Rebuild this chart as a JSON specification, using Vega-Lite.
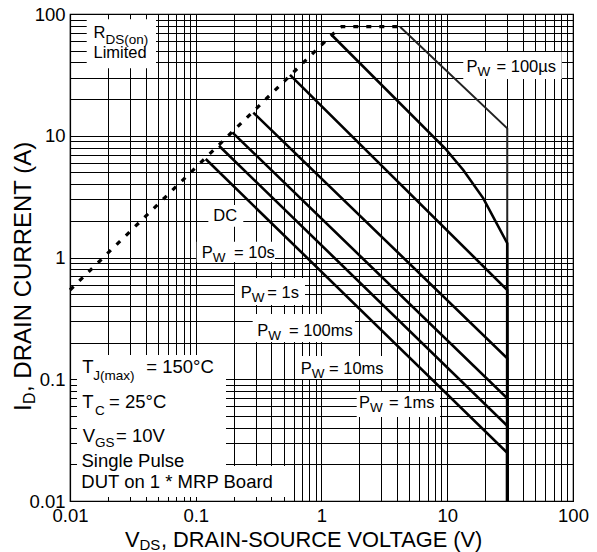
{
  "$schema": "https://vega.github.io/schema/vega-lite/v6.json",
  "width": 503,
  "height": 487,
  "autosize": "none",
  "padding": {"left": 70, "top": 14, "right": 24, "bottom": 51},
  "background": "#ffffff",
  "config": {
    "view": {"stroke": "#000000", "strokeWidth": 1.2},
    "font": "Liberation Sans"
  },
  "datasets": {
    "curves": [
      {"s": "RDS", "o": 1, "V": 0.01, "I": 0.541},
      {"s": "RDS", "o": 2, "V": 1.205, "I": 67.2},
      {"s": "RDS", "o": 3, "V": 1.447, "I": 78.7},
      {"s": "RDS", "o": 4, "V": 4.21, "I": 78.7},
      {"s": "100us", "o": 1, "V": 4.21, "I": 78.7},
      {"s": "100us", "o": 2, "V": 30, "I": 11.5},
      {"s": "100us", "o": 3, "V": 30, "I": 0.01},
      {"s": "1ms", "o": 1, "V": 1.205, "I": 67.2},
      {"s": "1ms", "o": 2, "V": 9.6, "I": 7.89},
      {"s": "1ms", "o": 3, "V": 13.4, "I": 5.23},
      {"s": "1ms", "o": 4, "V": 19.35, "I": 3.06},
      {"s": "1ms", "o": 5, "V": 30, "I": 1.31},
      {"s": "1ms", "o": 6, "V": 30, "I": 0.01},
      {"s": "10ms", "o": 1, "V": 0.5615, "I": 31.6},
      {"s": "10ms", "o": 2, "V": 30, "I": 0.541},
      {"s": "10ms", "o": 3, "V": 30, "I": 0.01},
      {"s": "100ms", "o": 1, "V": 0.287, "I": 15.5},
      {"s": "100ms", "o": 2, "V": 30, "I": 0.1486},
      {"s": "100ms", "o": 3, "V": 30, "I": 0.01},
      {"s": "1s", "o": 1, "V": 0.1953, "I": 10.67},
      {"s": "1s", "o": 2, "V": 30, "I": 0.0697},
      {"s": "1s", "o": 3, "V": 30, "I": 0.01},
      {"s": "10s", "o": 1, "V": 0.153, "I": 8.28},
      {"s": "10s", "o": 2, "V": 30, "I": 0.0415},
      {"s": "10s", "o": 3, "V": 30, "I": 0.01},
      {"s": "DC", "o": 1, "V": 0.12, "I": 6.44},
      {"s": "DC", "o": 2, "V": 30, "I": 0.0249},
      {"s": "DC", "o": 3, "V": 30, "I": 0.01}
    ],
    "boxes": [
      {"b": "RDS", "V": 0.01358, "V2": 0.0483, "I": 35.8, "I2": 90.5},
      {"b": "100us", "V": 13.41, "V2": 81.3, "I": 29.25, "I2": 48.7},
      {"b": "DC", "V": 0.1259, "V2": 0.2388, "I": 1.791, "I2": 2.699},
      {"b": "10s", "V": 0.1018, "V2": 0.4268, "I": 0.918, "I2": 1.348},
      {"b": "1s", "V": 0.2051, "V2": 0.7395, "I": 0.4074, "I2": 0.6786},
      {"b": "100ms", "V": 0.2837, "V2": 1.846, "I": 0.2023, "I2": 0.3436},
      {"b": "10ms", "V": 0.6538, "V2": 3.441, "I": 0.1005, "I2": 0.1552},
      {"b": "1ms", "V": 1.905, "V2": 8.757, "I": 0.049, "I2": 0.0786},
      {"b": "cond1", "V": 0.01137, "V2": 0.174, "I": 0.01079, "I2": 0.1582},
      {"b": "cond2", "V": 0.01137, "V2": 0.5616, "I": 0.01079, "I2": 0.01939}
    ],
    "texts": [
      {"t": "R", "V": 0.01536, "I": 63.9, "r": "lab"},
      {"t": "DS(on)", "V": 0.01915, "I": 57.2, "r": "labsub"},
      {"t": "Limited", "V": 0.01538, "I": 43.8, "r": "lab"},
      {"t": "P", "V": 14.23, "I": 33.58, "r": "lab"},
      {"t": "W", "V": 17.4, "I": 31.13, "r": "labsub"},
      {"t": "= 100µs", "V": 24.64, "I": 33.58, "r": "lab"},
      {"t": "DC", "V": 0.1379, "I": 2.006, "r": "lab"},
      {"t": "P", "V": 0.1115, "I": 0.9963, "r": "lab"},
      {"t": "W", "V": 0.1364, "I": 0.9237, "r": "labsub"},
      {"t": "= 10s", "V": 0.2014, "I": 0.9963, "r": "lab"},
      {"t": "P", "V": 0.2278, "I": 0.465, "r": "lab"},
      {"t": "W", "V": 0.2786, "I": 0.431, "r": "labsub"},
      {"t": "= 1s", "V": 0.3707, "I": 0.465, "r": "lab"},
      {"t": "P", "V": 0.3087, "I": 0.2287, "r": "lab"},
      {"t": "W", "V": 0.3775, "I": 0.212, "r": "labsub"},
      {"t": "= 100ms", "V": 0.5515, "I": 0.2287, "r": "lab"},
      {"t": "P", "V": 0.6833, "I": 0.1104, "r": "lab"},
      {"t": "W", "V": 0.8358, "I": 0.1024, "r": "labsub"},
      {"t": "= 10ms", "V": 1.147, "I": 0.1104, "r": "lab"},
      {"t": "P", "V": 1.987, "I": 0.0577, "r": "lab"},
      {"t": "W", "V": 2.43, "I": 0.0535, "r": "labsub"},
      {"t": "= 1ms", "V": 3.441, "I": 0.0577, "r": "lab"},
      {"t": "T", "V": 0.01253, "I": 0.1119, "r": "cond"},
      {"t": "J(max)", "V": 0.01532, "I": 0.09858, "r": "condsub"},
      {"t": "= 150°C", "V": 0.04044, "I": 0.1119, "r": "cond"},
      {"t": "T", "V": 0.01253, "I": 0.0577, "r": "cond"},
      {"t": "C", "V": 0.0158, "I": 0.05086, "r": "condsub"},
      {"t": "= 25°C", "V": 0.02042, "I": 0.0577, "r": "cond"},
      {"t": "V", "V": 0.01262, "I": 0.03069, "r": "cond"},
      {"t": "GS", "V": 0.0158, "I": 0.02761, "r": "condsub"},
      {"t": "= 10V", "V": 0.02321, "I": 0.03069, "r": "cond"},
      {"t": "Single Pulse", "V": 0.01235, "I": 0.01913, "r": "cond"},
      {"t": "DUT on 1 * MRP Board", "V": 0.0123, "I": 0.01286, "r": "cond"},
      {"t": "V", "V": 0.02737, "I": 0.004229, "r": "xt"},
      {"t": "DS", "V": 0.0357, "I": 0.003996, "r": "xtsub"},
      {"t": ", DRAIN-SOURCE VOLTAGE (V)", "V": 0.05293, "I": 0.004229, "r": "xt"},
      {"t": "I", "V": 0.004896, "I": 0.05484, "r": "yt"},
      {"t": "D", "V": 0.005268, "I": 0.06261, "r": "ytsub"},
      {"t": ", DRAIN CURRENT (A)", "V": 0.004896, "I": 0.0786, "r": "yt"}
    ]
  },
  "encoding": {
    "x": {"field": "V", "type": "quantitative",
      "scale": {"type": "log", "domain": [0.01, 100], "nice": false},
      "axis": {
        "title": null,
        "values": [0.01,0.02,0.03,0.04,0.05,0.06,0.07,0.08,0.09,0.1,0.2,0.3,0.4,0.5,0.6,0.7,0.8,0.9,1,2,3,4,5,6,7,8,9,10,20,30,40,50,60,70,80,90,100],
        "grid": true, "gridColor": "#000000", "gridWidth": 1, "gridOpacity": 1,
        "ticks": false, "tickSize": 0,
        "domain": true, "domainColor": "#000000", "domainWidth": 1.2,
        "labelFont": "Liberation Sans", "labelFontSize": 18.5, "labelColor": "#000000",
        "format": "~g",
        "labelExpr": "indexof([0.01,0.1,1,10,100], datum.value) >= 0 ? datum.label : ''",
        "labelFlush": false, "labelOverlap": false, "labelPadding": 5
      }
    },
    "y": {"field": "I", "type": "quantitative",
      "scale": {"type": "log", "domain": [0.01, 100], "nice": false},
      "axis": {
        "title": null,
        "values": [0.01,0.02,0.03,0.04,0.05,0.06,0.07,0.08,0.09,0.1,0.2,0.3,0.4,0.5,0.6,0.7,0.8,0.9,1,2,3,4,5,6,7,8,9,10,20,30,40,50,60,70,80,90,100],
        "grid": true, "gridColor": "#000000", "gridWidth": 1, "gridOpacity": 1,
        "ticks": false, "tickSize": 0,
        "domain": true, "domainColor": "#000000", "domainWidth": 1.2,
        "labelFont": "Liberation Sans", "labelFontSize": 18.5, "labelColor": "#000000",
        "format": "~g",
        "labelExpr": "indexof([0.01,0.1,1,10,100], datum.value) >= 0 ? datum.label : ''",
        "labelFlush": false, "labelOverlap": false, "labelPadding": 5
      }
    }
  },
  "layer": [
    {
      "data": {"name": "boxes"},
      "mark": {"type": "rect", "fill": "#ffffff", "strokeWidth": 0},
      "encoding": {
        "x2": {"field": "V2"},
        "y2": {"field": "I2"}
      }
    },
    {
      "data": {"name": "curves"},
      "transform": [{"filter": "datum.s == 'RDS'"}],
      "mark": {"type": "line", "color": "#000000", "strokeWidth": 3.2, "strokeDash": [5, 8], "strokeCap": "butt"},
      "encoding": {
        "order": {"field": "o", "type": "quantitative"}
      }
    },
    {
      "data": {"name": "curves"},
      "transform": [{"filter": "datum.s == '100us'"}],
      "mark": {"type": "line", "color": "#222222", "strokeWidth": 2},
      "encoding": {
        "order": {"field": "o", "type": "quantitative"}
      }
    },
    {
      "data": {"name": "curves"},
      "transform": [{"filter": "datum.s != 'RDS' && datum.s != '100us'"}],
      "mark": {"type": "line", "color": "#000000", "strokeWidth": 2.6},
      "encoding": {
        "detail": {"field": "s", "type": "nominal"},
        "order": {"field": "o", "type": "quantitative"}
      }
    },
    {
      "data": {"name": "texts"},
      "transform": [{"filter": "datum.r == 'lab'"}],
      "mark": {"type": "text", "align": "left", "baseline": "alphabetic", "fontSize": 16.5, "color": "#000000", "font": "Liberation Sans"},
      "encoding": {"text": {"field": "t"}}
    },
    {
      "data": {"name": "texts"},
      "transform": [{"filter": "datum.r == 'labsub'"}],
      "mark": {"type": "text", "align": "left", "baseline": "alphabetic", "fontSize": 13.5, "color": "#000000", "font": "Liberation Sans"},
      "encoding": {"text": {"field": "t"}}
    },
    {
      "data": {"name": "texts"},
      "transform": [{"filter": "datum.r == 'cond'"}],
      "mark": {"type": "text", "align": "left", "baseline": "alphabetic", "fontSize": 18.5, "color": "#000000", "font": "Liberation Sans"},
      "encoding": {"text": {"field": "t"}}
    },
    {
      "data": {"name": "texts"},
      "transform": [{"filter": "datum.r == 'condsub'"}],
      "mark": {"type": "text", "align": "left", "baseline": "alphabetic", "fontSize": 13.5, "color": "#000000", "font": "Liberation Sans"},
      "encoding": {"text": {"field": "t"}}
    },
    {
      "data": {"name": "texts"},
      "transform": [{"filter": "datum.r == 'xt'"}],
      "mark": {"type": "text", "align": "left", "baseline": "alphabetic", "fontSize": 21.8, "color": "#000000", "font": "Liberation Sans"},
      "encoding": {"text": {"field": "t"}}
    },
    {
      "data": {"name": "texts"},
      "transform": [{"filter": "datum.r == 'xtsub'"}],
      "mark": {"type": "text", "align": "left", "baseline": "alphabetic", "fontSize": 15, "color": "#000000", "font": "Liberation Sans"},
      "encoding": {"text": {"field": "t"}}
    },
    {
      "data": {"name": "texts"},
      "transform": [{"filter": "datum.r == 'yt'"}],
      "mark": {"type": "text", "align": "left", "baseline": "alphabetic", "angle": 270, "fontSize": 24, "color": "#000000", "font": "Liberation Sans"},
      "encoding": {"text": {"field": "t"}}
    },
    {
      "data": {"name": "texts"},
      "transform": [{"filter": "datum.r == 'ytsub'"}],
      "mark": {"type": "text", "align": "left", "baseline": "alphabetic", "angle": 270, "fontSize": 16, "color": "#000000", "font": "Liberation Sans"},
      "encoding": {"text": {"field": "t"}}
    }
  ]
}
